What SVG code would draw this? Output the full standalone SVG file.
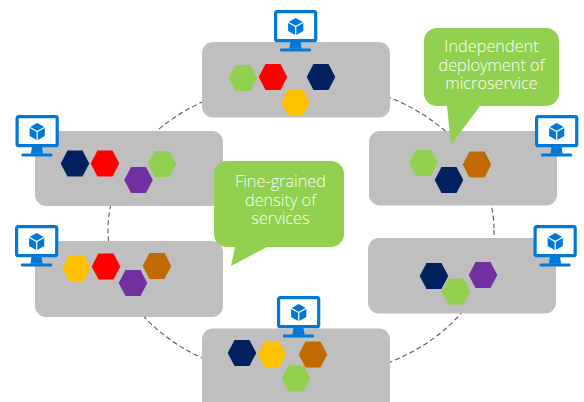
<svg xmlns="http://www.w3.org/2000/svg" xmlns:xlink="http://www.w3.org/1999/xlink" width="584" height="402" viewBox="0 0 584 402">
<style>
.box{fill:#bfbfbf}
.ring{fill:none;stroke:#595959;stroke-width:1.100;stroke-dasharray:5 3}
.g{fill:#92d050}.r{fill:#ff0000}.n{fill:#002060}.a{fill:#ffc000}.o{fill:#c06a00}.p{fill:#7030a0}
.call{fill:#92d050}
.t{font-family:"Open Sans","Noto Sans",sans-serif;font-size:16.300px;font-weight:300;fill:#ffffff;text-anchor:middle}
</style>
<defs>
<polygon id="hex" points="-14.3,0 -7.5,-13 7.5,-13 14.3,0 7.5,13 -7.5,13"/>
<g id="mon">
<rect x="1.600" y="1.600" width="40.100" height="29.100" rx="1.500" fill="#ffffff" stroke="#0078d7" stroke-width="3.200"/>
<path d="M16.500 32h10l1.200 6.800h-12.400z" fill="#0078d7"/>
<rect x="6" y="38.400" width="31" height="3" rx="1.200" fill="#0078d7"/>
<polygon points="21.700,8 29.300,12.200 29.300,21 21.700,25.200 14.100,21 14.100,12.200" fill="#0078d7"/>
<path d="M14.100 12.200l7.600 4.300 7.600-4.300M21.700 16.500v8.700" fill="none" stroke="#ffffff" stroke-width="1.200"/>
</g>
</defs>
<g id="connectors">
<ellipse class="ring" cx="301" cy="230" rx="193" ry="149"/>
</g>
<g id="node-top">
<rect class="box" x="202" y="42" width="188" height="75.500" rx="11"/>
<use href="#hex" class="g" x="243" y="78"/>
<use href="#hex" class="r" x="273" y="77"/>
<use href="#hex" class="n" x="321" y="77"/>
<use href="#hex" class="a" x="295.500" y="102.500"/>
<use href="#mon" x="274" y="10"/>
</g>
<g id="node-right-1">
<rect class="box" x="369" y="131" width="188" height="74.500" rx="11"/>
<use href="#hex" class="g" x="423.500" y="163"/>
<use href="#hex" class="o" x="477" y="164.500"/>
<use href="#hex" class="n" x="449" y="180"/>
<use href="#mon" x="535" y="115"/>
</g>
<g id="node-left-1">
<rect class="box" x="35" y="131" width="188" height="75" rx="11"/>
<use href="#hex" class="n" x="75" y="163.500"/>
<use href="#hex" class="r" x="105" y="163.500"/>
<use href="#hex" class="p" x="138.500" y="180"/>
<use href="#hex" class="g" x="162" y="164"/>
<use href="#mon" x="15.500" y="115"/>
</g>
<g id="node-left-2">
<rect class="box" x="35" y="241" width="188" height="76" rx="11"/>
<use href="#hex" class="a" x="76.500" y="268"/>
<use href="#hex" class="r" x="106" y="266.500"/>
<use href="#hex" class="p" x="133" y="283"/>
<use href="#hex" class="o" x="157" y="266"/>
<use href="#mon" x="15" y="225"/>
</g>
<g id="node-right-2">
<rect class="box" x="368" y="238" width="188" height="75.500" rx="11"/>
<use href="#hex" class="n" x="434" y="276"/>
<use href="#hex" class="p" x="483" y="275"/>
<use href="#hex" class="g" x="456" y="291.500"/>
<use href="#mon" x="533.500" y="225"/>
</g>
<g id="node-bottom">
<rect class="box" x="202" y="328.500" width="188" height="85" rx="11"/>
<use href="#hex" class="n" x="242" y="353"/>
<use href="#hex" class="a" x="272" y="354.500"/>
<use href="#hex" class="o" x="313" y="354.500"/>
<use href="#hex" class="g" x="296" y="378.500"/>
<use href="#mon" x="277" y="296"/>
</g>
<g id="callout-independent">
<path class="call" d="M437 28h109a13 13 0 0 1 13 13v52a13 13 0 0 1-13 13h-66l-29 39-4-39h-10a13 13 0 0 1-13-13v-52a13 13 0 0 1 13-13z"/>
<text class="t"><tspan x="491.500" y="52">Independent</tspan><tspan x="491.500" y="70.500">deployment of</tspan><tspan x="491.500" y="89">microservice</tspan></text>
</g>
<g id="callout-fine-grained">
<path class="call" d="M227 161h104a13 13 0 0 1 13 13v60a13 13 0 0 1-13 13h-64l-36 19 4-19h-8a13 13 0 0 1-13-13v-60a13 13 0 0 1 13-13z"/>
<text class="t"><tspan x="280.500" y="187">Fine-grained</tspan><tspan x="280.500" y="205.500">density of</tspan><tspan x="280.500" y="224">services</tspan></text>
</g>
</svg>
